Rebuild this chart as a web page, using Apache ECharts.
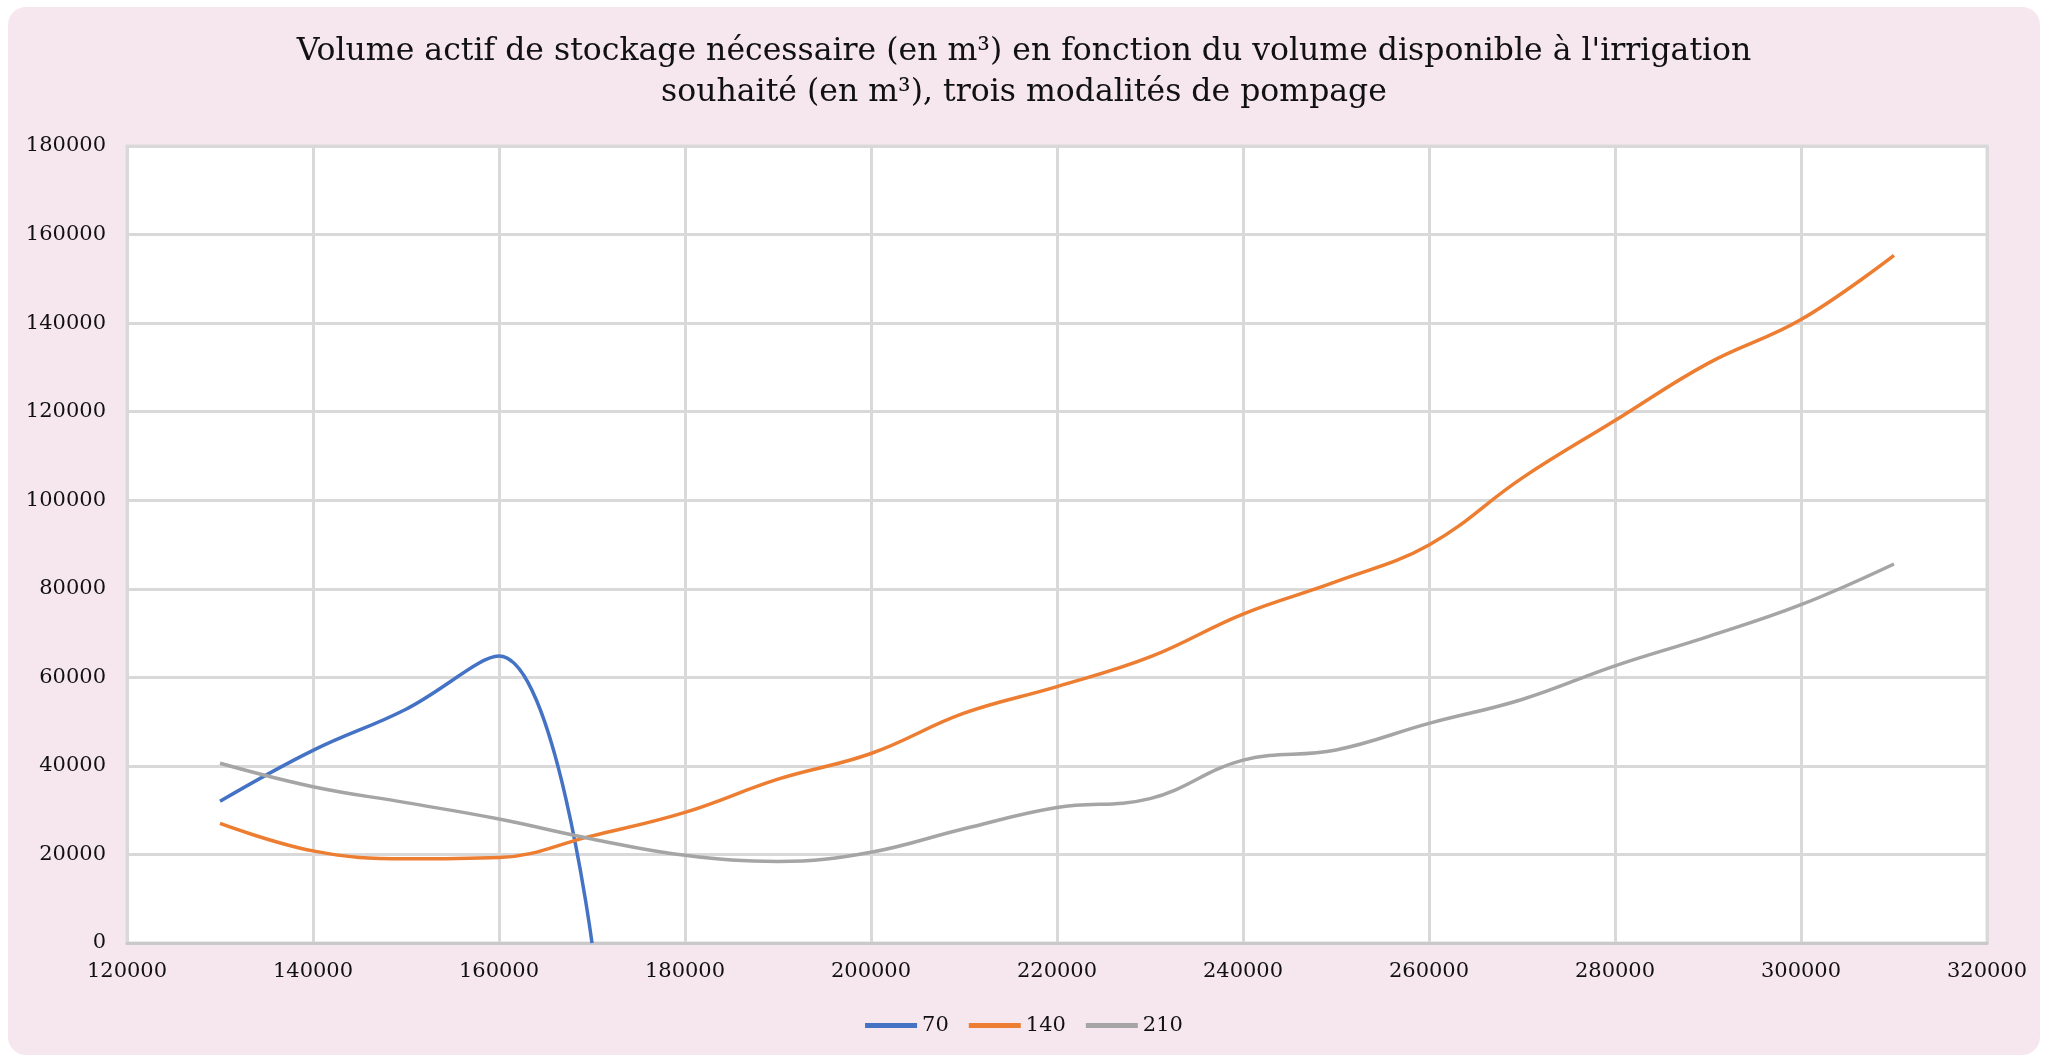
<!DOCTYPE html>
<html>
<head>
<meta charset="utf-8">
<script src="https://cdn.jsdelivr.net/npm/echarts@6/dist/echarts.min.js"></script>
<style>
  html, body { margin: 0; padding: 0; background: #fff; }
  #chart {
    position: absolute;
    left: 8px;
    top: 7px;
    width: 2032px;
    height: 1048px;
    background: #f6e7ef;
    border-radius: 18px;
    overflow: hidden;
  }
</style>
</head>
<body>
<div id="chart"></div>
<script>
// volume disponible à l'irrigation souhaité (m3)
const volumes = [130000, 140000, 150000, 160000, 170000, 180000, 190000, 200000, 210000, 220000,
  230000, 240000, 250000, 260000, 270000, 280000, 290000, 300000, 310000]

// volume actif de stockage nécessaire, par modalité de pompage
const pompage70 = [32000, 43500, 52800, 64800, 0]
const pompage140 = [27000, 20800, 19000, 19300, 24200, 29500, 37000, 42800, 51900, 57900,
  64600, 74300, 81600, 89900, 105000, 118000, 130900, 140800, 155300]
const pompage210 = [40600, 35300, 31700, 28000, 23500, 19800, 18400, 20500, 25800, 30600,
  32600, 41300, 43600, 49600, 55000, 62600, 69200, 76400, 85600]

const seriesNames = ['70', '140', '210']
const colors = ['#4472c4', '#ed7d31', '#a5a5a5']

const xTicks = { min: 120000, max: 320000, interval: 20000 }
const yTicks = { min: 0, max: 180000, interval: 20000 }

const chart = echarts.init(document.getElementById('chart'))

function toPoints(values) {
  return values.map((v, i) => [volumes[i], v])
}

const font = "'DejaVu Serif', 'Liberation Serif', serif"

const option = {
  animation: false,
  title: {
    text: "Volume actif de stockage nécessaire (en m³) en fonction du volume disponible à l'irrigation\nsouhaité (en m³), trois modalités de pompage",
    left: 'center',
    top: 19,
    textStyle: {
      fontFamily: font,
      fontSize: 31.5,
      fontWeight: 'normal',
      color: '#111',
      lineHeight: 41
    }
  },
  legend: {
    data: seriesNames,
    top: 1003,
    left: 'center',
    itemWidth: 52,
    itemHeight: 5,
    itemGap: 20,
    icon: 'rect',
    textStyle: { fontFamily: font, fontSize: 21, color: '#111' }
  },
  grid: {
    left: 119,
    right: 53,
    top: 139,
    bottom: 112,
    show: true,
    backgroundColor: '#ffffff',
    borderColor: '#d9d9d9',
    borderWidth: 3
  },
  xAxis: {
    type: 'value',
    min: xTicks.min,
    max: xTicks.max,
    interval: xTicks.interval,
    axisLine: { show: true, lineStyle: { color: '#c9c9c9', width: 3 } },
    axisTick: { show: false },
    axisLabel: { fontFamily: font, fontSize: 21, color: '#111', margin: 18, formatter: v => String(v) },
    splitLine: { show: true, lineStyle: { color: '#d9d9d9', width: 3 } }
  },
  yAxis: {
    type: 'value',
    min: yTicks.min,
    max: yTicks.max,
    interval: yTicks.interval,
    axisLine: { show: false },
    axisTick: { show: false },
    axisLabel: { fontFamily: font, fontSize: 21, color: '#111', margin: 21, formatter: v => String(v) },
    splitLine: { show: true, lineStyle: { color: '#d9d9d9', width: 3 } }
  },
  series: [pompage70, pompage140, pompage210].map((vals, i) => ({
    name: seriesNames[i],
    type: 'line',
    data: toPoints(vals),
    smooth: 0.4,
    showSymbol: false,
    symbol: 'none',
    color: colors[i],
    lineStyle: { width: 3.5, color: colors[i] }
  }))
}

chart.setOption(option)
</script>
</body>
</html>
